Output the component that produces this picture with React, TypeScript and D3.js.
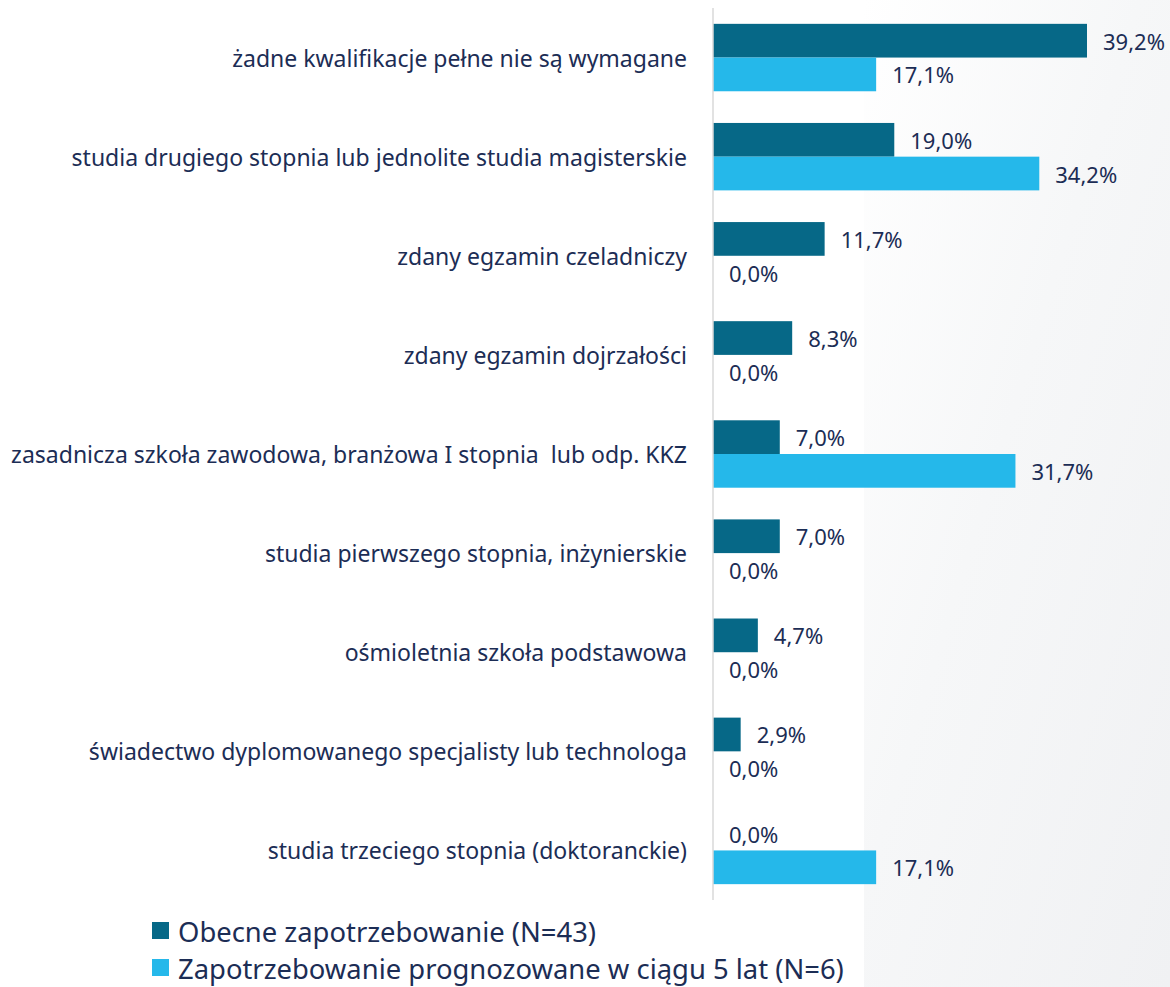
import React from "react";
import * as d3 from "d3";

const categories = [
  "żadne kwalifikacje pełne nie są wymagane",
  "studia drugiego stopnia lub jednolite studia magisterskie",
  "zdany egzamin czeladniczy",
  "zdany egzamin dojrzałości",
  "zasadnicza szkoła zawodowa, branżowa I stopnia  lub odp. KKZ",
  "studia pierwszego stopnia, inżynierskie",
  "ośmioletnia szkoła podstawowa",
  "świadectwo dyplomowanego specjalisty lub technologa",
  "studia trzeciego stopnia (doktoranckie)",
];
const current = [39.2, 19.0, 11.7, 8.3, 7.0, 7.0, 4.7, 2.9, 0.0];
const forecast = [17.1, 34.2, 0.0, 0.0, 31.7, 0.0, 0.0, 0.0, 17.1];
const seriesNames = ["Obecne zapotrzebowanie (N=43)", "Zapotrzebowanie prognozowane w ciągu 5 lat (N=6)"];
const seriesColors = ["#066887", "#25b8ea"];

const W = 1170, H = 987;
const x0 = 713, axisTop = 8, axisBottom = 900;
const textColor = "#1c2d55";
const font = "'Noto Sans', sans-serif";

export default function App() {
  const x = d3.scaleLinear().domain([0, 39.2]).range([x0, 1087]);
  const y = d3.scaleBand().domain(categories).range([axisTop, axisBottom]);
  const inner = d3.scaleBand().domain(["0", "1"]).range([0, y.bandwidth()]).paddingOuter(0.47).paddingInner(0);
  const fmt = (v: number) => v.toFixed(1).replace(".", ",") + "%";
  const series = [current, forecast];
  return (
    <svg width={W} height={H} style={{ position: "absolute", left: 0, top: 0, background: "#fff" }}>
      <defs>
        <linearGradient id="bg" x1="0" y1="0" x2="1" y2="1">
          <stop offset="0" stopColor="#ffffff" />
          <stop offset="0.45" stopColor="#f6f7f8" />
          <stop offset="1" stopColor="#f0f1f3" />
        </linearGradient>
      </defs>
      <rect x={864} y={0} width={W - 864} height={H} fill="url(#bg)" />
      {categories.map((c, i) => (
        <g key={c}>
          <text x={687} y={y(c)! + y.bandwidth() / 2} textAnchor="end" dominantBaseline="central"
            fontFamily={font} fontSize={23} fill={textColor} style={{ whiteSpace: "pre" }}>{c}</text>
          {series.map((s, k) => {
            const yy = y(c)! + inner(String(k))!;
            const h = inner.bandwidth();
            return (
              <g key={k}>
                {s[i] > 0 && <rect x={x0} y={yy} width={x(s[i]) - x0} height={h} fill={seriesColors[k]} />}
                <text x={x(s[i]) + 16} y={yy + h / 2} dominantBaseline="central" fontFamily={font}
                  fontSize={22} fill={textColor}>{fmt(s[i])}</text>
              </g>
            );
          })}
        </g>
      ))}
      <line x1={x0} x2={x0} y1={axisTop} y2={axisBottom} stroke="#d9d9d9" strokeWidth={1.5} />
      {seriesNames.map((n, k) => (
        <g key={n}>
          <rect x={152} y={922 + k * 37} width={17} height={17} fill={seriesColors[k]} />
          <text x={178} y={931 + k * 37} dominantBaseline="central" fontFamily={font} fontSize={27.4} fill={textColor}>{n}</text>
        </g>
      ))}
    </svg>
  );
}
